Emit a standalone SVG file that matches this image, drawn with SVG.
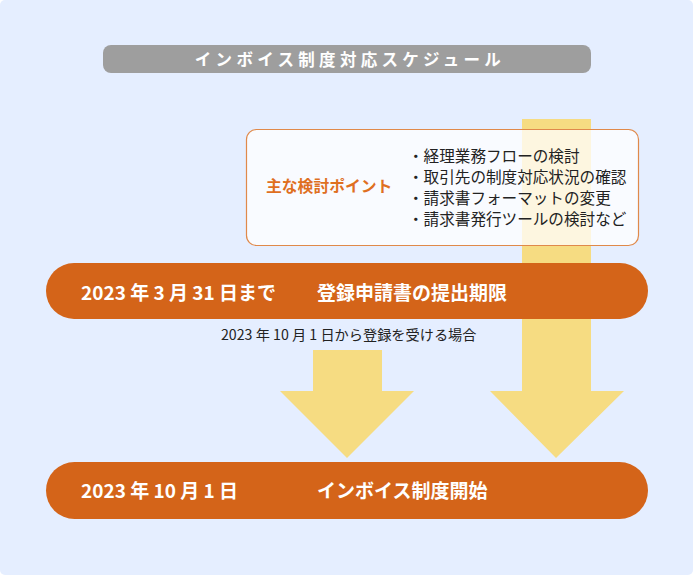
<svg xmlns="http://www.w3.org/2000/svg" width="693" height="575" viewBox="0 0 693 575">
<style>
.jp{font-family:"Noto Sans CJK JP","Noto Sans",sans-serif}
.bar{fill:#d46419}
.arrow{fill:#f6dc82}
.wt{fill:#ffffff;font-weight:bold;font-size:19px}
.pt{fill:#222222;font-size:15.6px}
</style>
<rect x="0" y="0" width="693" height="575" fill="#ffffff"/>
<rect x="0" y="0" width="693" height="575" rx="5" fill="#e5eeff"/>
<g id="title">
<rect x="103" y="45" width="488" height="28" rx="8" fill="#9e9e9e"/>
<text class="jp" x="350" y="66" text-anchor="middle" fill="#ffffff" font-size="16.5" font-weight="bold" letter-spacing="4.3">インボイス制度対応スケジュール</text>
</g>
<g id="connectors">
<polygon class="arrow" points="522,119 591,119 591,391 624,391 556,458 490,391 522,391"/>
<polygon class="arrow" points="313,350 382,350 382,391 414,391 347,458 280,391 313,391"/>
</g>
<g id="points">
<rect x="246.5" y="129.5" width="392" height="116" rx="10" fill="#ffffff" fill-opacity="0.75" stroke="#e0894a" stroke-width="1.2"/>
<text class="jp" x="266" y="192" fill="#df6f1f" font-size="15.8" font-weight="bold">主な検討ポイント</text>
<text class="jp pt" x="408" y="162">・経理業務フローの検討</text>
<text class="jp pt" x="408" y="183">・取引先の制度対応状況の確認</text>
<text class="jp pt" x="408" y="204">・請求書フォーマットの変更</text>
<text class="jp pt" x="408" y="225">・請求書発行ツールの検討など</text>
</g>
<g id="deadline">
<rect class="bar" x="46" y="263" width="602" height="56" rx="28"/>
<text class="jp wt" x="81" y="300">2023 年 3 月 31 日まで</text>
<text class="jp wt" x="317" y="300">登録申請書の提出期限</text>
</g>
<g id="note">
<text class="jp" x="221" y="340" fill="#222222" font-size="14.2">2023 年 10 月 1 日から登録を受ける場合</text>
</g>
<g id="start">
<rect class="bar" x="46" y="462" width="602" height="57" rx="28.5"/>
<text class="jp wt" x="81" y="498">2023 年 10 月 1 日</text>
<text class="jp wt" x="317" y="498">インボイス制度開始</text>
</g>
</svg>
